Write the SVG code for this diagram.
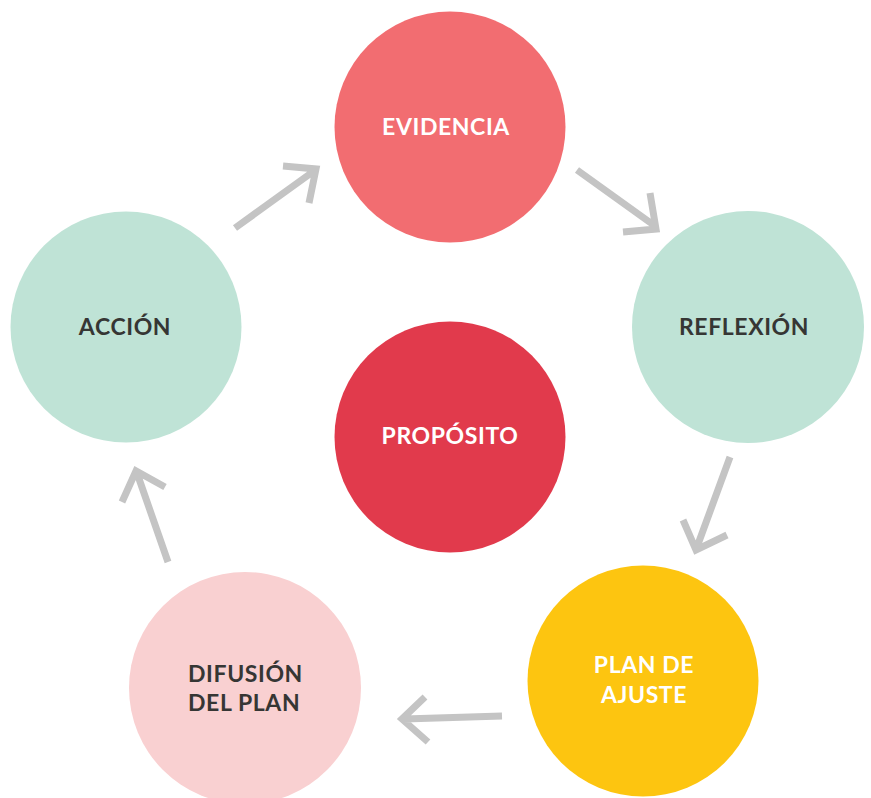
<svg xmlns="http://www.w3.org/2000/svg" width="871" height="798" viewBox="0 0 871 798">
<style>
.lbl{font-family:Lato,"Open Sans","Liberation Sans",sans-serif;font-weight:bold;font-size:23px;letter-spacing:0.6px}
.w{fill:#ffffff}
.d{fill:#363634}
.arr{fill:none;stroke:#c4c4c4;stroke-width:7;stroke-linejoin:miter;stroke-linecap:butt}
</style>
<rect width="871" height="798" fill="#ffffff"/>
<g id="connectors">
<path class="arr" d="M235,228 L314,171 M283,166 L316,169 L309,203"/>
<path class="arr" d="M577,170 L655,226 M650,193 L656,229 L623,232"/>
<path class="arr" d="M730,457 L697,547 M683,520 L696,550 L727,535"/>
<path class="arr" d="M502,716 L404,719 M425,697 L402,719 L428,742"/>
<path class="arr" d="M168,562 L137,473 M122,502 L136,471 L165,487"/>
</g>
<g id="evidencia">
<circle cx="450" cy="127" r="115.5" fill="#f26d71"/>
<text class="lbl w" x="446" y="135" text-anchor="middle">EVIDENCIA</text>
</g>
<g id="reflexion">
<circle cx="748" cy="327" r="116" fill="#bfe3d6"/>
<text class="lbl d" x="744" y="335" text-anchor="middle">REFLEXIÓN</text>
</g>
<g id="plan-de-ajuste">
<circle cx="643" cy="681" r="115.5" fill="#fdc510"/>
<text class="lbl w" x="644" y="673" text-anchor="middle">PLAN DE</text>
<text class="lbl w" x="644" y="703" text-anchor="middle">AJUSTE</text>
</g>
<g id="difusion">
<circle cx="245" cy="688" r="116" fill="#f9d0d1"/>
<text class="lbl d" x="188" y="682">DIFUSIÓN</text>
<text class="lbl d" x="188" y="711">DEL PLAN</text>
</g>
<g id="accion">
<circle cx="126" cy="327" r="115.5" fill="#bfe3d6"/>
<text class="lbl d" x="125" y="335" text-anchor="middle">ACCIÓN</text>
</g>
<g id="proposito">
<circle cx="450" cy="437" r="115.5" fill="#e13a4c"/>
<text class="lbl w" x="450" y="444" text-anchor="middle">PROPÓSITO</text>
</g>
</svg>
